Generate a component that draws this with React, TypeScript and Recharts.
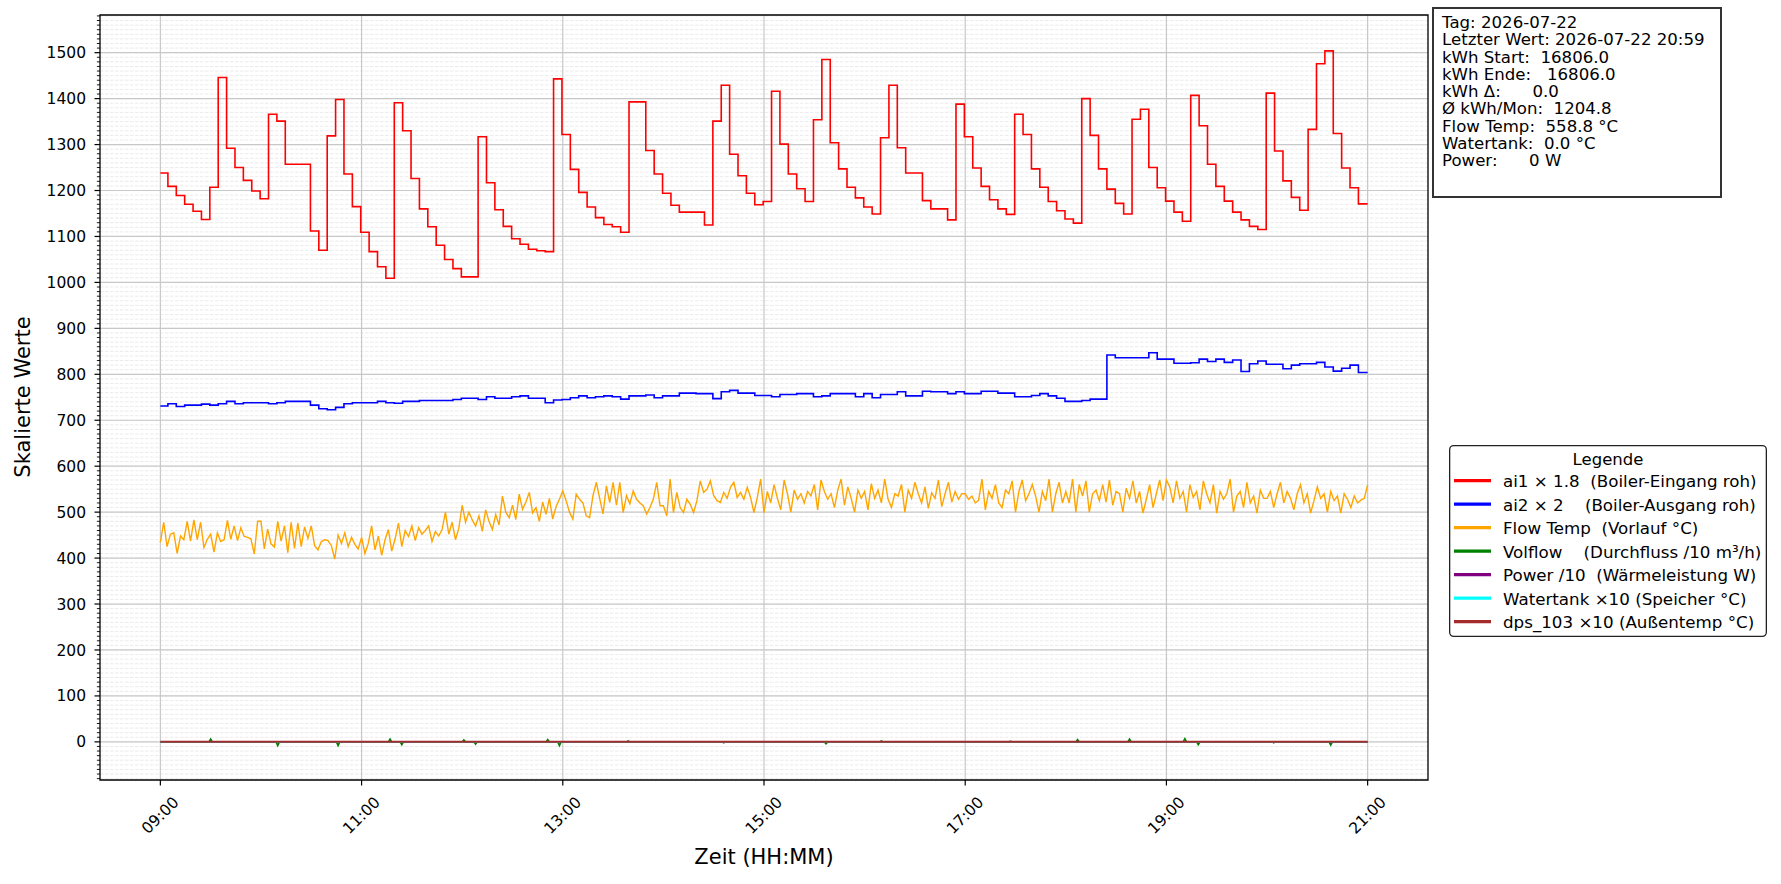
import React from 'react';
import { CartesianGrid, Legend, Line, LineChart, ReferenceArea, XAxis, YAxis } from 'recharts';

// ============ Data (minutes after 09:00) ============

// ai1 x 1.8, one level per 5-minute slot
const AI1_SCALED = [
  1238, 1209, 1189, 1170, 1155, 1137, 1207, 1446, 1292, 1250, 1222, 1199,
  1182, 1366, 1351, 1257, 1257, 1257, 1112, 1070, 1319, 1398, 1236, 1165,
  1109, 1067, 1034, 1009, 1391, 1330, 1226, 1160, 1121, 1081, 1050, 1030,
  1012, 1012, 1317, 1217, 1158, 1122, 1095, 1083, 1072, 1069, 1067, 1443,
  1322, 1246, 1196, 1164, 1141, 1126, 1121, 1109, 1393, 1393, 1287, 1236,
  1194, 1168, 1153, 1153, 1153, 1125, 1351, 1429, 1279, 1232, 1194, 1169,
  1176, 1416, 1301, 1236, 1204, 1176, 1354, 1485, 1304, 1247, 1207, 1184,
  1164, 1149, 1315, 1429, 1293, 1238, 1238, 1178, 1160, 1160, 1136, 1388,
  1317, 1249, 1209, 1180, 1160, 1148, 1366, 1322, 1247, 1207, 1176, 1156,
  1138, 1129, 1400, 1320, 1247, 1203, 1172, 1149, 1355, 1377, 1250, 1206,
  1177, 1153, 1133, 1407, 1341, 1257, 1209, 1177, 1153, 1136, 1122, 1115,
  1412, 1286, 1221, 1185, 1157, 1333, 1476, 1504, 1324, 1249, 1206, 1171,
];

// ai2 x 2, one level per 5-minute slot
const AI2_SCALED = [
  731, 736, 730, 733, 733, 735, 733, 736, 741, 736, 738, 738,
  738, 736, 738, 741, 741, 741, 733, 725, 723, 728, 736, 738,
  738, 738, 741, 738, 737, 741, 741, 743, 743, 743, 743, 745,
  748, 748, 745, 751, 748, 748, 751, 753, 748, 748, 738, 744,
  745, 749, 753, 749, 751, 753, 751, 746, 753, 753, 755, 749,
  753, 753, 759, 759, 758, 758, 747, 762, 765, 759, 759, 754,
  754, 751, 756, 756, 758, 758, 751, 753, 758, 758, 758, 751,
  758, 749, 756, 756, 762, 753, 753, 763, 762, 762, 758, 762,
  758, 758, 763, 763, 759, 759, 751, 751, 754, 758, 753, 748,
  741, 741, 743, 746, 746, 842, 836, 836, 836, 836, 847, 833,
  833, 824, 824, 825, 833, 828, 833, 826, 831, 806, 823, 829,
  822, 822, 812, 820, 823, 823, 826, 816, 807, 813, 820, 804,
];

// Flow Temp, every 2 minutes, 09:00 .. 21:00
const FLOW_TEMP = [
  434, 478, 425, 452, 455, 410, 448, 440, 480, 437, 483, 440, 478, 423, 441, 452, 413, 455, 436, 440, 482, 441, 470, 438, 466, 447, 445, 442, 409, 480,
  480, 420, 463, 431, 424, 480, 437, 470, 412, 478, 421, 476, 425, 468, 443, 470, 427, 418, 436, 440, 438, 427, 398, 450, 432, 455, 425, 445, 430, 420,
  445, 410, 432, 470, 418, 448, 406, 440, 462, 415, 442, 476, 425, 460, 447, 470, 438, 466, 452, 460, 470, 436, 458, 448, 462, 500, 452, 478, 440, 465,
  515, 478, 500, 483, 470, 492, 458, 505, 480, 462, 495, 472, 535, 500, 488, 515, 484, 539, 506, 522, 543, 498, 510, 480, 522, 495, 530, 485, 512, 528,
  546, 525, 500, 485, 539, 528, 520, 492, 488, 536, 565, 530, 496, 557, 521, 565, 515, 565, 499, 536, 518, 546, 528, 520, 514, 496, 510, 528, 565, 514,
  514, 492, 572, 499, 543, 510, 499, 528, 517, 499, 525, 568, 543, 550, 568, 536, 525, 521, 543, 530, 554, 565, 532, 543, 528, 554, 532, 499, 532, 572,
  499, 545, 520, 560, 530, 505, 570, 540, 500, 548, 528, 540, 520, 545, 535, 560, 505, 570, 545, 528, 540, 510, 548, 572, 515, 555, 530, 500, 548, 530,
  545, 505, 562, 530, 548, 520, 572, 528, 510, 540, 535, 560, 500, 548, 530, 565, 540, 520, 555, 508, 542, 530, 570, 512, 540, 565, 522, 545, 528, 540,
  540, 528, 535, 520, 526, 572, 505, 545, 530, 560, 520, 510, 548, 540, 568, 500, 545, 570, 525, 540, 560, 535, 500, 545, 525, 572, 500, 540, 565, 520,
  545, 520, 572, 500, 560, 535, 568, 500, 540, 548, 525, 560, 522, 570, 515, 545, 540, 500, 552, 530, 568, 520, 545, 498, 528, 560, 510, 540, 570, 525,
  570, 555, 520, 568, 530, 545, 500, 560, 532, 545, 505, 568, 540, 520, 560, 498, 545, 528, 540, 572, 500, 535, 545, 510, 565, 520, 535, 498, 548, 530,
  530, 545, 510, 540, 565, 520, 545, 530, 505, 540, 560, 520, 540, 498, 525, 555, 530, 540, 500, 545, 525, 535, 498, 540, 528, 510, 535, 520, 526, 530,
  559,
];

// Volflow /10: zero except short blips
const VOLFLOW_BLIP_MIN = [30, 70, 106, 137, 144, 181, 188, 231, 238, 279, 336, 397, 430, 507, 547, 578, 611, 619, 664, 698];
const VOLFLOW_BLIP_VAL = [6, -8, -8, 6, -6, 4, -5, 5, -8, 2, -2, -4, 2, 1, 5, 6, 7, -6, -2, -7];

// Power, Watertank, dps_103: flat at 0 (start, end)
const POWER_SCALED = [0, 0];
const WATERTANK_SCALED = [0, 0];
const DPS103_SCALED = [0, 0];

const X_TICKS = [0, 120, 240, 360, 480, 600, 720];
const Y_MAJOR = [0, 100, 200, 300, 400, 500, 600, 700, 800, 900, 1000, 1100, 1200, 1300, 1400, 1500];
const Y_MINOR = Array.from({ length: 167 }, (_, i) => -80 + i * 10);

const INFO_LINES = [
  'Tag: 2026-07-22',
  'Letzter Wert: 2026-07-22 20:59',
  'kWh Start:  16806.0',
  'kWh Ende:   16806.0',
  'kWh Δ:      0.0',
  'Ø kWh/Mon:  1204.8',
  'Flow Temp:  558.8 °C',
  'Watertank:  0.0 °C',
  'Power:      0 W',
];

const SERIES_NAMES = [
  'ai1 × 1.8  (Boiler-Eingang roh)',
  'ai2 × 2    (Boiler-Ausgang roh)',
  'Flow Temp  (Vorlauf °C)',
  'Volflow    (Durchfluss /10 m³/h)',
  'Power /10  (Wärmeleistung W)',
  'Watertank ×10 (Speicher °C)',
  'dps_103 ×10 (Außentemp °C)',
];

// ============ Helpers ============

function slotSeries(levels: number[]) {
  const pts = levels.map((v, i) => ({ t: i === 0 ? 0 : i * 5 - 0.5, v }));
  pts.push({ t: 720, v: levels[levels.length - 1] });
  return pts;
}

function blipSeries(mins: number[], vals: number[]) {
  const pts = [{ t: 0, v: 0 }];
  mins.forEach((m, i) => {
    pts.push({ t: m - 1, v: 0 }, { t: m, v: vals[i] }, { t: m + 1, v: 0 });
  });
  pts.push({ t: 720, v: 0 });
  return pts;
}

const flatSeries = (vals: number[]) => [{ t: 0, v: vals[0] }, { t: 720, v: vals[1] }];

const hhmm = (m: number) => `${String(9 + Math.floor(m / 60)).padStart(2, '0')}:${String(m % 60).padStart(2, '0')}`;

const FONT = 'DejaVu Sans';

// ============ Ticks ============

const TimeTick = (props: any) => {
  const { x, y, payload } = props;
  return (
    <g transform={`translate(${x},${y + 28})`}>
      <text transform="rotate(-45)" textAnchor="middle" dominantBaseline="central" fontSize={15.5} fill="#000" fontFamily={FONT}>
        {hhmm(payload.value)}
      </text>
    </g>
  );
};

const ValueTick = (props: any) => {
  const { x, y, payload } = props;
  const major = payload.value % 100 === 0;
  const ax = x + 14;
  return (
    <g>
      <line x1={ax - (major ? 5.5 : 3.1)} x2={ax} y1={y} y2={y} stroke="#000" strokeWidth={major ? 1.2 : 0.9} />
      {major && (
        <text x={x} y={y} dy="0.36em" textAnchor="end" fontSize={15.5} fill="#000" fontFamily={FONT}>
          {payload.value}
        </text>
      )}
    </g>
  );
};

// ============ Legend ============

const LegendBox = (props: any) => {
  const items = [...(props.payload || [])].sort(
    (a: any, b: any) => SERIES_NAMES.indexOf(a.value) - SERIES_NAMES.indexOf(b.value),
  );
  return (
    <svg width={318} height={192} style={{ display: 'block', fontFamily: FONT }}>
      <rect x={0.65} y={0.65} width={316.7} height={190.7} rx={4} fill="#fff" fillOpacity={0.85} stroke="#222" strokeWidth={1.3} />
      <text x={159} y={19.5} textAnchor="middle" fontSize={16.5} fill="#000">Legende</text>
      {items.map((it: any, k: number) => (
        <g key={it.value}>
          <line x1={5} x2={42} y1={35.7 + 23.5 * k} y2={35.7 + 23.5 * k} stroke={it.color} strokeWidth={3.3} />
          <text x={54} y={42.3 + 23.5 * k} fontSize={16.7} fill="#000" xmlSpace="preserve" style={{ whiteSpace: 'pre' }}>
            {it.value}
          </text>
        </g>
      ))}
    </svg>
  );
};

// ============ Main ============

export default function App() {
  const lineCommon = { dataKey: 'v', dot: false, activeDot: false, isAnimationActive: false, strokeWidth: 1.6 } as const;

  return (
    <div style={{ position: 'absolute', left: 0, top: 0, width: 1781, height: 884, background: '#fff', fontFamily: FONT }}>
      <LineChart width={1781} height={884} margin={{ top: 15, right: 353, bottom: 44, left: 40 }}>
        <CartesianGrid horizontalValues={Y_MINOR} vertical={false} stroke="#e2e2e2" strokeWidth={0.7} strokeDasharray="3.5 1.5" />
        <CartesianGrid horizontalValues={Y_MAJOR} verticalValues={X_TICKS} stroke="#c8c8c8" strokeWidth={1.2} />
        <XAxis
          type="number"
          dataKey="t"
          domain={[-36, 756]}
          ticks={X_TICKS}
          allowDataOverflow
          height={60}
          tickSize={5.5}
          tickMargin={2}
          tick={TimeTick}
          axisLine={false}
          tickLine={{ stroke: '#000', strokeWidth: 1.2 }}
          interval={0}
        />
        <YAxis
          type="number"
          domain={[-83, 1582]}
          ticks={Y_MINOR}
          allowDataOverflow
          width={60}
          tickSize={6}
          tickMargin={8}
          tick={ValueTick}
          tickLine={false}
          axisLine={false}
          interval={0}
        />
        <Line {...lineCommon} data={slotSeries(AI1_SCALED)} type="stepAfter" stroke="#ff0000" name={SERIES_NAMES[0]} />
        <Line {...lineCommon} data={slotSeries(AI2_SCALED)} type="stepAfter" stroke="#0000ff" name={SERIES_NAMES[1]} />
        <Line {...lineCommon} data={FLOW_TEMP.map((v, i) => ({ t: i * 2, v }))} type="linear" stroke="#ffa500" strokeWidth={1.4} name={SERIES_NAMES[2]} />
        <Line {...lineCommon} data={blipSeries(VOLFLOW_BLIP_MIN, VOLFLOW_BLIP_VAL)} type="linear" stroke="#008000" name={SERIES_NAMES[3]} />
        <Line {...lineCommon} data={flatSeries(POWER_SCALED)} type="linear" stroke="#800080" name={SERIES_NAMES[4]} />
        <Line {...lineCommon} data={flatSeries(WATERTANK_SCALED)} type="linear" stroke="#00ffff" name={SERIES_NAMES[5]} />
        <Line {...lineCommon} data={flatSeries(DPS103_SCALED)} type="linear" stroke="#a52a2a" strokeWidth={2} name={SERIES_NAMES[6]} />
        <ReferenceArea x1={-36} x2={756} y1={-83} y2={1582} fill="none" stroke="#000" strokeWidth={1.3} ifOverflow="visible" />
        <Legend
          layout="horizontal"
          verticalAlign="middle"
          align="center"
          content={LegendBox}
          wrapperStyle={{ left: 1449, top: 445, width: 318, height: 192 }}
        />
      </LineChart>

      <div
        style={{
          position: 'absolute',
          left: 23,
          top: 397,
          transform: 'translate(-50%, -50%) rotate(-90deg)',
          fontSize: 21,
          whiteSpace: 'nowrap',
          color: '#000',
        }}
      >
        Skalierte Werte
      </div>
      <div
        style={{
          position: 'absolute',
          left: 764,
          top: 857,
          transform: 'translate(-50%, -50%)',
          fontSize: 21,
          whiteSpace: 'nowrap',
          color: '#000',
        }}
      >
        Zeit (HH:MM)
      </div>

      <div
        style={{
          position: 'absolute',
          left: 1432,
          top: 7,
          width: 278,
          height: 182,
          border: '2px solid #333',
          background: '#fff',
          padding: '5px 0 0 8px',
          boxSizing: 'content-box',
          fontSize: 16.6,
          lineHeight: '17.3px',
          whiteSpace: 'pre',
          color: '#000',
        }}
      >
        {INFO_LINES.join('\n')}
      </div>
    </div>
  );
}
